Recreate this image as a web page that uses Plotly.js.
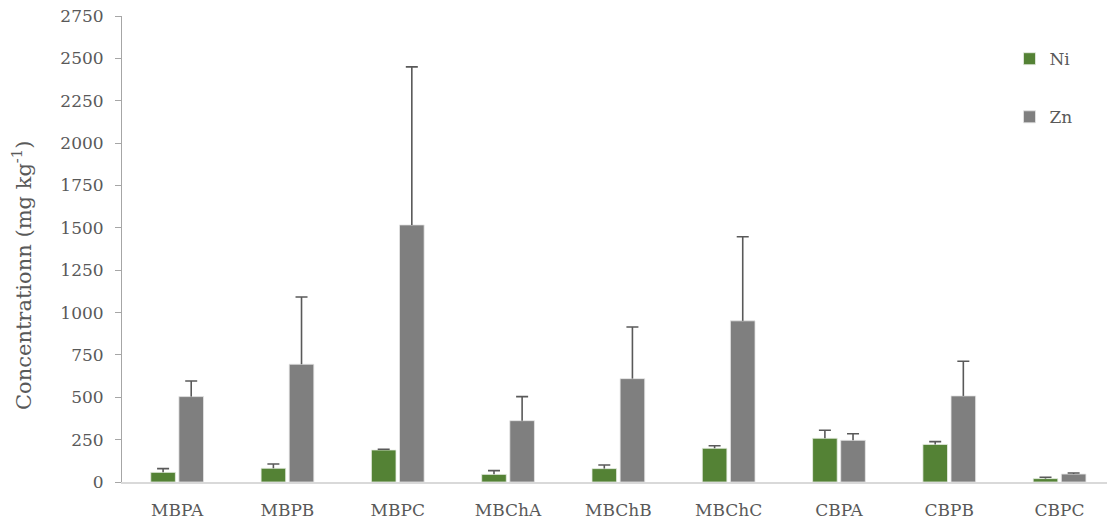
<!DOCTYPE html>
<html>
<head>
<meta charset="utf-8">
<script src="https://cdn.plot.ly/plotly-3.0.1.min.js"></script>
<style>html,body{margin:0;padding:0;background:#fff;}#chart{width:1107px;height:521px;}</style>
</head>
<body>
<div id="chart"></div>
<script>
const categories = ["MBPA", "MBPB", "MBPC", "MBChA", "MBChB", "MBChC", "CBPA", "CBPB", "CBPC"];
const niValues = [57, 81, 189, 45, 79, 199, 258, 222, 20];
const niErrors = [22, 25, 4, 22, 21, 15, 47, 16, 8];
const znValues = [504, 695, 1517, 362, 610, 951, 246, 508, 47];
const znErrors = [92, 397, 933, 142, 305, 496, 39, 205, 6];
const yTicks = [0, 250, 500, 750, 1000, 1250, 1500, 1750, 2000, 2250, 2500, 2750];
const yTitle = "Concentrationn (mg kg<sup>-1</sup>)";

const fontFam = "DejaVu Serif, serif";
const txtColor = "#595959";
const errColor = "#595959";

function stem(arr) {
  return {type: "data", symmetric: false, array: arr, arrayminus: arr.map(() => 0),
          color: errColor, thickness: 1.6, width: 0, visible: true};
}
function cap(arr) {
  return {type: "data", symmetric: false, array: arr.map(() => 0), arrayminus: arr.map(() => 0),
          color: errColor, thickness: 1.6, width: 6, visible: true};
}

const traces = [
  {
    type: "bar", name: "Ni", x: categories, y: niValues, offsetgroup: "ni",
    marker: {color: "#548235", line: {color: "#e8eee4", width: 0.8}},
    error_y: stem(niErrors), legendgroup: "a"
  },
  {
    type: "bar", name: "Zn", x: categories, y: znValues, offsetgroup: "zn",
    marker: {color: "#7f7f7f", line: {color: "#e6e6e6", width: 0.8}},
    error_y: stem(znErrors), legendgroup: "b"
  },
  {
    type: "bar", name: "Ni cap", x: categories, y: niValues.map((v, i) => v + niErrors[i]), offsetgroup: "ni",
    marker: {color: "rgba(0,0,0,0)", line: {width: 0}}, showlegend: false, hoverinfo: "skip",
    error_y: cap(niErrors)
  },
  {
    type: "bar", name: "Zn cap", x: categories, y: znValues.map((v, i) => v + znErrors[i]), offsetgroup: "zn",
    marker: {color: "rgba(0,0,0,0)", line: {width: 0}}, showlegend: false, hoverinfo: "skip",
    error_y: cap(znErrors)
  }
];

const layout = {
  width: 1107, height: 521,
  margin: {l: 122, r: 0, t: 16, b: 39},
  paper_bgcolor: "#ffffff", plot_bgcolor: "#ffffff",
  barmode: "group", bargap: 0.49, bargroupgap: 0.125,
  font: {family: fontFam, color: txtColor, size: 17},
  xaxis: {
    range: [-0.5, 8.43],
    showline: true, linecolor: "#d9d9d9", linewidth: 1.5,
    showgrid: false, zeroline: false, ticks: "",
    ticklabelstandoff: 12,
    tickfont: {family: fontFam, size: 17, color: txtColor}
  },
  yaxis: {
    range: [0, 2750], tickvals: yTicks, ticktext: yTicks.map(String),
    showline: true, linecolor: "#a6a6a6", linewidth: 1,
    ticks: "outside", ticklen: 6, tickcolor: "#a6a6a6",
    showgrid: false, zeroline: false,
    ticklabelstandoff: 8,
    tickfont: {family: fontFam, size: 17, color: txtColor}
  },
  annotations: [{
    text: yTitle, textangle: -90, showarrow: false,
    xref: "paper", yref: "paper", x: 0, y: 0.442,
    xanchor: "center", yanchor: "middle", xshift: -100,
    font: {family: fontFam, size: 21, color: txtColor}
  }],
  showlegend: true,
  legend: {
    x: 0.901, xref: "paper", y: 0.946, yanchor: "top",
    font: {family: fontFam, size: 17, color: txtColor},
    tracegroupgap: 33, itemwidth: 30, bgcolor: "rgba(0,0,0,0)"
  }
};

Plotly.newPlot("chart", traces, layout, {displayModeBar: false, staticPlot: true});
</script>
</body>
</html>
